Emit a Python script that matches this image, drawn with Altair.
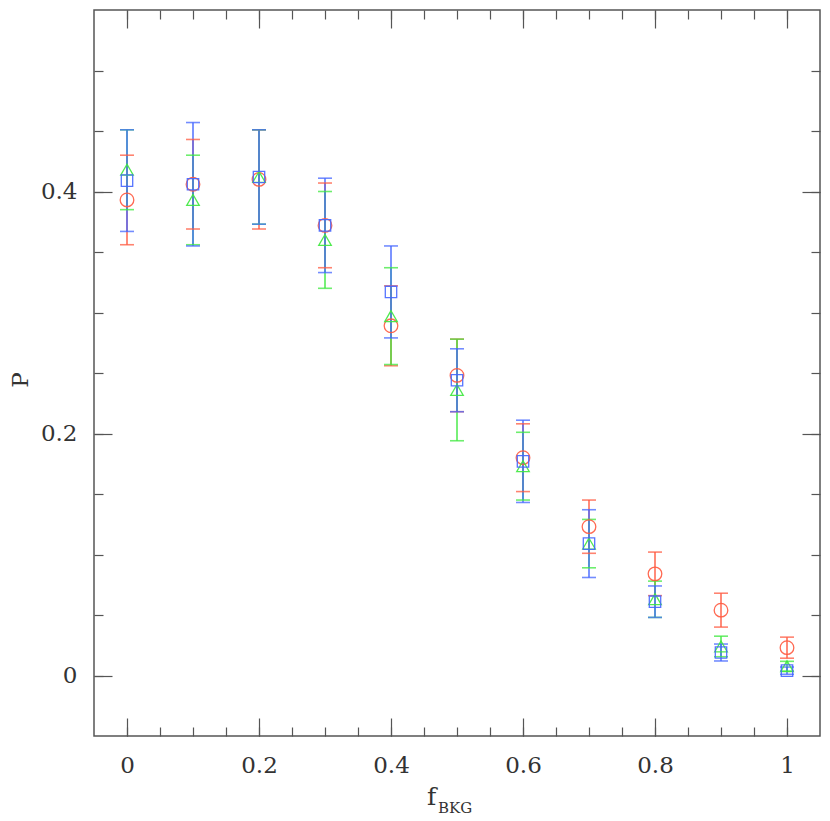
import altair as alt
import pandas as pd

# ---- data ----
f_bkg = [0.0, 0.1, 0.2, 0.3, 0.4, 0.5, 0.6, 0.7, 0.8, 0.9, 1.0]

red_p = [0.393, 0.406, 0.410, 0.372, 0.289, 0.248, 0.180, 0.123, 0.084, 0.054, 0.023]
red_e = [0.037, 0.037, 0.041, 0.035, 0.033, 0.030, 0.028, 0.022, 0.018, 0.014, 0.0087]

green_p = [0.418, 0.393, 0.412, 0.360, 0.297, 0.236, 0.173, 0.109, 0.063, 0.024, 0.0077]
green_e = [0.033, 0.037, 0.039, 0.040, 0.040, 0.042, 0.028, 0.020, 0.015, 0.0085, 0.004]

blue_p = [0.409, 0.406, 0.412, 0.372, 0.317, 0.244, 0.177, 0.109, 0.061, 0.019, 0.004]
blue_e = [0.042, 0.051, 0.039, 0.039, 0.038, 0.026, 0.034, 0.028, 0.013, 0.007, 0.003]

series_names = ["red", "green", "blue"]
series_colors = ["#ff5a40", "#3ee83e", "#4466ff"]
series_shapes = ["circle", "triangle-up", "square"]
series_sizes = [185, 130, 100]

x_major = [0, 0.2, 0.4, 0.6, 0.8, 1.0]
x_minor = [round(i * 0.05, 2) for i in range(21)]
y_major = [0, 0.2, 0.4]
y_minor = [round(i * 0.05, 2) for i in range(11)]

rows = []
for name, ps, es in zip(series_names, [red_p, green_p, blue_p], [red_e, green_e, blue_e]):
    for xv, p, e in zip(f_bkg, ps, es):
        rows.append({"series": name, "x": xv, "p": p, "lo": p - e, "hi": p + e})
df = pd.DataFrame(rows)

xscale = alt.Scale(domain=[-0.05, 1.05], nice=False, zero=False)
yscale = alt.Scale(domain=[-0.05, 0.55], nice=False, zero=False)
color = alt.Color("series:N", scale=alt.Scale(domain=series_names, range=series_colors), legend=None)

FONT = "DejaVu Serif"
TICK = "#555555"


def ax(orient, values, size, labels=False, pad=0):
    kw = dict(orient=orient, values=values, tickSize=size, offset=-size, domain=False,
              grid=False, labels=labels, title=None, tickColor=TICK, tickWidth=1.2)
    if labels:
        kw.update(labelFont=FONT, labelFontSize=23, labelColor="#333333",
                  labelPadding=pad, format="~g", labelFlush=False, labelOverlap=False)
    return alt.Axis(**kw)


base = alt.Chart(df)

bars = base.mark_rule(strokeWidth=2, opacity=0.7).encode(
    x=alt.X("x:Q", scale=xscale, axis=ax("bottom", x_major, 18, True, 18)),
    y=alt.Y("lo:Q", scale=yscale, axis=ax("left", y_major, 18, True, 17)),
    y2="hi:Q",
    color=color,
)

cap_hi = base.mark_tick(orient="horizontal", size=14, thickness=1.6, opacity=0.75).encode(
    x=alt.X("x:Q", scale=xscale, axis=ax("bottom", x_minor, 9)),
    y=alt.Y("hi:Q", scale=yscale, axis=ax("left", y_minor, 9)),
    color=color,
)

cap_lo = base.mark_tick(orient="horizontal", size=14, thickness=1.6, opacity=0.75).encode(
    x=alt.X("x:Q", scale=xscale, axis=ax("top", x_major, 18)),
    y=alt.Y("lo:Q", scale=yscale, axis=ax("right", y_major, 18)),
    color=color,
)

points = base.mark_point(filled=False, strokeWidth=1.3, opacity=0.9).encode(
    x=alt.X("x:Q", scale=xscale, axis=ax("top", x_minor, 9)),
    y=alt.Y("p:Q", scale=yscale, axis=ax("right", y_minor, 9)),
    color=color,
    shape=alt.Shape("series:N", scale=alt.Scale(domain=series_names, range=series_shapes), legend=None),
    size=alt.Size("series:N", scale=alt.Scale(domain=series_names, range=series_sizes), legend=None),
)

ytitle = alt.Chart(pd.DataFrame({"t": ["P"]})).mark_text(
    font=FONT, fontSize=23, color="#333333", angle=270, align="center", baseline="middle"
).encode(x=alt.value(-73), y=alt.value(370), text="t:N")

xtitle_f = alt.Chart(pd.DataFrame({"t": ["f"]})).mark_text(
    font=FONT, fontSize=25, color="#333333", align="left", baseline="alphabetic"
).encode(x=alt.value(333), y=alt.value(795), text="t:N")

xtitle_sub = alt.Chart(pd.DataFrame({"t": ["BKG"]})).mark_text(
    font=FONT, fontSize=15, color="#333333", align="left", baseline="alphabetic"
).encode(x=alt.value(344), y=alt.value(803), text="t:N")

chart = alt.layer(bars, cap_hi, cap_lo, points, ytitle, xtitle_f, xtitle_sub).resolve_axis(
    x="independent", y="independent"
).properties(
    width=726, height=726,
    autosize=alt.AutoSizeParams(type="none"),
    padding={"left": 86, "top": 2, "right": 2, "bottom": 84},
).configure_view(
    stroke="#555555", strokeWidth=1.5
)

chart.save("out.html", embed_options={"renderer": "svg", "actions": False})
